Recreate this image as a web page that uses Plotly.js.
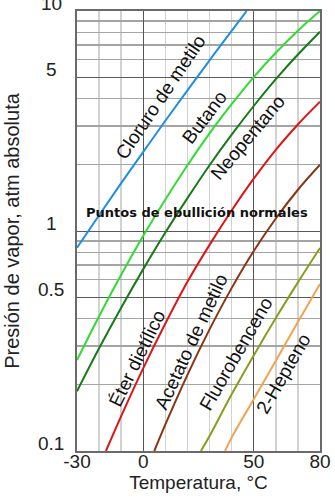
<!DOCTYPE html>
<html>
<head>
<meta charset="utf-8">
<script src="https://cdn.plot.ly/plotly-3.0.1.min.js"></script>
<style>
  html, body { margin: 0; padding: 0; background: #fff; }
  #chart { width: 335px; height: 502px; }
</style>
</head>
<body>
<div id="chart"></div>
<script>
// ---- Data (temperature in °C, vapour pressure in atm) ----
const tCloruro = [-30, -20, -10, 0, 10, 20, 30, 40, 46.8];
const pCloruro = [0.84, 1.18, 1.65, 2.29, 3.17, 4.36, 5.97, 8.13, 10];

const tButano = [-30, -20, -10, 0, 10, 20, 30, 40, 50, 60, 70, 80];
const pButano = [0.259, 0.41, 0.632, 0.951, 1.39, 1.99, 2.78, 3.77, 5.01, 6.46, 8.14, 10];

const tNeopentano = [-30, -20, -10, 0, 10, 20, 30, 40, 50, 60, 70, 80];
const pNeopentano = [0.187, 0.293, 0.448, 0.671, 0.984, 1.41, 1.99, 2.74, 3.70, 4.90, 6.34, 8.05];

const tEter = [-16.9, -10, 0, 10, 20, 30, 40, 50, 60, 70, 80];
const pEter = [0.1, 0.144, 0.238, 0.38, 0.588, 0.865, 1.24, 1.73, 2.34, 3.05, 3.87];

const tAcetato = [5, 10, 20, 30, 40, 50, 60, 70, 80];
const pAcetato = [0.1, 0.132, 0.222, 0.357, 0.55, 0.811, 1.14, 1.54, 2.0];

const tFluoro = [26.1, 30, 40, 50, 60, 70, 80];
const pFluoro = [0.1, 0.117, 0.181, 0.272, 0.402, 0.584, 0.837];

const tHepteno = [37, 40, 50, 60, 70, 80];
const pHepteno = [0.1, 0.115, 0.172, 0.257, 0.386, 0.574];

const seriesNames = ['Cloruro de metilo', 'Butano', 'Neopentano', 'Éter dietílico',
                     'Acetato de metilo', 'Fluorobenceno', '2-Hepteno'];

const xTickVals = [-30, 0, 50, 80];
const xTickText = ['-30', '0', '50', '80'];
const xMinorVals = [-20, -10, 10, 20, 30, 40, 60, 70];
const yTickVals = [0.1, 0.5, 1, 5, 10];
const yTickText = ['0.1', '0.5', '1', '5', '10'];
const yMinorVals = [0.2, 0.3, 0.4, 0.6, 0.7, 0.8, 0.9, 2, 3, 4, 6, 7, 8, 9];

const xTitle = 'Temperatura, °C';
const yTitle = 'Presión de vapor, atm absoluta';
const noteText = 'Puntos de ebullición normales';

// ---- Styling ----
const colors = ['#1f8ee0', '#2fdc2f', '#167a16', '#e01414', '#8a3512', '#8a9c1c', '#f4a24c'];
const xs = [tCloruro, tButano, tNeopentano, tEter, tAcetato, tFluoro, tHepteno];
const ys = [pCloruro, pButano, pNeopentano, pEter, pAcetato, pFluoro, pHepteno];

const traces = seriesNames.map((name, i) => ({
  type: 'scatter', mode: 'lines', name: name,
  x: xs[i], y: ys[i],
  line: { color: colors[i], width: 2, shape: 'spline', smoothing: 1 },
  hoverinfo: 'skip'
}));

// label placement (layout only): [x °C, log10 y, angle]
const labelPos = [
  [7.6, 0.609, -56],
  [27.5, 0.518, -53],
  [47.2, 0.425, -50],
  [-2.8, -0.58, -64],
  [21.6, -0.50, -65],
  [42.2, -0.559, -60],
  [63.5, -0.648, -60]
];

const FONT = 'Liberation Sans, Arial, sans-serif';

const annotations = seriesNames.map((name, i) => ({
  text: name, x: labelPos[i][0], y: labelPos[i][1], xref: 'x', yref: 'y',
  textangle: labelPos[i][2], showarrow: false, xanchor: 'center', yanchor: 'middle',
  font: { family: FONT, size: 19, color: '#111' }
}));

annotations.push({
  text: '<b>' + noteText + '</b>', x: 24.5, y: 0.086, xref: 'x', yref: 'y',
  showarrow: false, xanchor: 'center', yanchor: 'middle',
  font: { family: 'DejaVu Sans, sans-serif', size: 13, color: '#111' }
});

yTickVals.forEach((v, i) => {
  annotations.push({
    text: yTickText[i], x: 0, xref: 'paper', y: Math.log10(v), yref: 'y',
    xanchor: 'center', yanchor: 'bottom', xshift: -26, yshift: -5,
    showarrow: false, font: { family: FONT, size: 19, color: '#222' }
  });
});

const layout = {
  width: 335, height: 502,
  margin: { l: 77, r: 15, t: 11, b: 51, pad: 0 },
  paper_bgcolor: '#fff', plot_bgcolor: '#fff',
  showlegend: false,
  font: { family: FONT, color: '#222' },
  xaxis: {
    range: [-30, 80], tickmode: 'array', tickvals: xTickVals, ticktext: xTickText,
    showgrid: true, gridcolor: '#555', gridwidth: 1,
    minor: { tickmode: 'array', tickvals: xMinorVals, showgrid: true, gridcolor: '#d2d2d2', gridwidth: 1.5, ticks: '' },
    zeroline: false, showline: true, mirror: true, linecolor: '#6a6a6a', linewidth: 2,
    ticks: '', ticklabelstandoff: -8,
    tickfont: { family: FONT, size: 19, color: '#222' },
    title: { text: xTitle, font: { family: FONT, size: 19, color: '#222' }, standoff: 0 }
  },
  yaxis: {
    type: 'log', range: [-1, 1], tickmode: 'array', tickvals: yTickVals, ticktext: yTickText,
    showticklabels: false,
    showgrid: true, gridcolor: '#5a5a5a', gridwidth: 1,
    minor: { tickmode: 'array', tickvals: yMinorVals, showgrid: true, gridcolor: '#a4a4a4', gridwidth: 1.2, ticks: '' },
    zeroline: false, showline: true, mirror: true, linecolor: '#6a6a6a', linewidth: 2,
    ticks: '',
    title: { text: yTitle, font: { family: FONT, size: 20, color: '#222' }, standoff: 50 }
  },
  annotations: annotations
};

Plotly.newPlot('chart', traces, layout, { staticPlot: true, displayModeBar: false });
</script>
</body>
</html>
